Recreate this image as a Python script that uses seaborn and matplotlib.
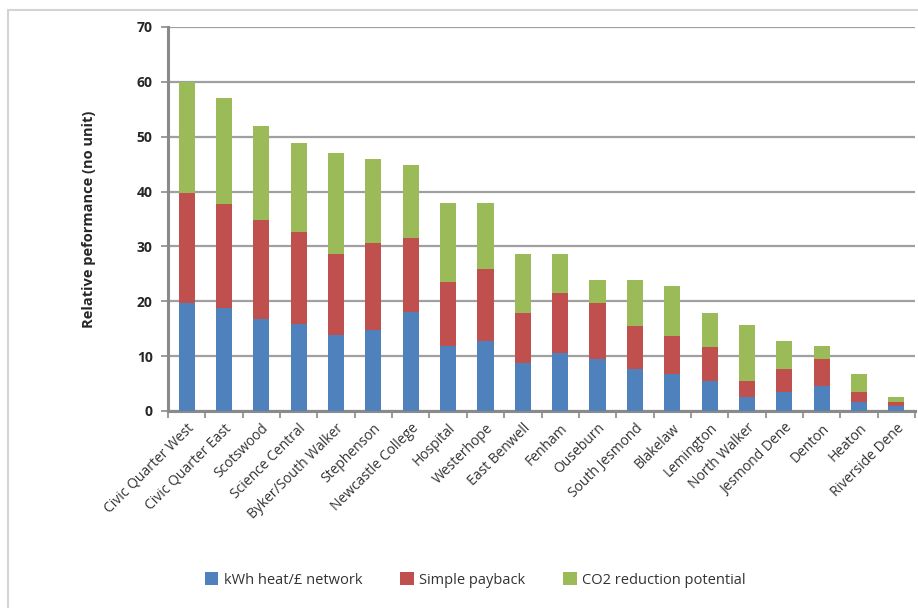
import matplotlib
matplotlib.use("Agg")
import matplotlib.pyplot as plt
from matplotlib.patches import Rectangle, Patch
import numpy as np
import pandas as pd
import seaborn as sns

# Heat network cluster areas, ranked by overall score
areas = [
    "Civic Quarter West", "Civic Quarter East", "Scotswood", "Science Central",
    "Byker/South Walker", "Stephenson", "Newcastle College", "Hospital",
    "Westerhope", "East Benwell", "Fenham", "Ouseburn", "South Jesmond",
    "Blakelaw", "Lemington", "North Walker", "Jesmond Dene", "Denton",
    "Heaton", "Riverside Dene",
]

# Component scores (relative, no unit)
kwh_heat = [19.7, 18.8, 16.8, 15.8, 13.8, 14.7, 18.1, 11.8, 12.7, 8.7,
            10.5, 9.5, 7.7, 6.7, 5.5, 2.5, 3.5, 4.6, 1.6, 1.0]
payback = [20.0, 19.0, 18.0, 16.8, 14.8, 15.9, 13.5, 11.8, 13.1, 9.2,
           11.0, 10.1, 7.8, 6.9, 6.1, 3.0, 4.1, 4.9, 1.8, 0.6]
co2 = [20.3, 19.2, 17.2, 16.3, 18.4, 15.3, 13.2, 14.3, 12.1, 10.8,
       7.2, 4.2, 8.3, 9.1, 6.3, 10.2, 5.2, 2.4, 3.4, 0.9]

series_names = ["kWh heat/£ network", "Simple payback", "CO2 reduction potential"]
colors = ["#4f81bd", "#c0504d", "#9bbb59"]

df = pd.DataFrame({"area": areas, "kwh": kwh_heat, "payback": payback, "co2": co2})
df["cum1"] = df["kwh"]
df["cum2"] = df["kwh"] + df["payback"]
df["cum3"] = df["cum2"] + df["co2"]

sns.set_theme(style="white")
plt.rcParams["font.family"] = ["Open Sans", "DejaVu Sans"]

fig = plt.figure(figsize=(9.18, 6.08), dpi=100)
ax = fig.add_axes([168 / 918, 1 - 411 / 608, (915 - 168) / 918, (411 - 27) / 608])

# Outer chart frame
fig.patches.append(Rectangle((8 / 918, -0.01), 1.0, 1 - 10 / 608 + 0.01,
                             transform=fig.transFigure, fill=False,
                             edgecolor="#d4d4d4", linewidth=1.5, zorder=0))

# Stacked bars: draw cumulative totals back to front
for col, c in zip(["cum3", "cum2", "cum1"], colors[::-1]):
    sns.barplot(data=df, x="area", y=col, color=c, width=0.43,
                saturation=1, linewidth=0, edgecolor="none", ax=ax, zorder=3)

ax.set_ylim(0, 70)
ax.set_xlim(-0.5, len(areas) - 0.5)
ax.set_yticks(np.arange(0, 71, 10))
ax.yaxis.grid(True, color="#a0a0a0", linewidth=1.6, zorder=0)
ax.set_axisbelow(True)

for s in ["top", "right"]:
    ax.spines[s].set_visible(False)
for s in ["left", "bottom"]:
    ax.spines[s].set_color("#8a8a8a")
    ax.spines[s].set_linewidth(2.2)

ax.tick_params(axis="y", which="major", direction="out", length=5, width=1.2,
               color="#8a8a8a", labelsize=10, labelcolor="#262626", pad=6, left=True)
for lbl in ax.get_yticklabels():
    lbl.set_fontweight("bold")

ax.set_xticks(range(len(areas)))
ax.set_xticklabels(areas, rotation=45, ha="right", rotation_mode="anchor",
                   fontsize=10, color="#333333")
ax.tick_params(axis="x", which="major", length=0, pad=7)
ax.set_xticks(np.arange(-0.5, len(areas), 1.0), minor=True)
ax.tick_params(axis="x", which="minor", direction="out", length=5, width=1.2,
               color="#8a8a8a", bottom=True)

ax.set_xlabel("")
ax.set_ylabel("Relative peformance (no unit)", fontsize=10.5, fontweight="bold",
              color="#262626", labelpad=29)

handles = [Patch(facecolor=c, edgecolor="none") for c in colors]
fig.legend(handles, series_names, loc="center", bbox_to_anchor=(0.518, 1 - 580 / 608),
           ncol=3, frameon=False, fontsize=10.5, handlelength=0.9, handleheight=0.9,
           handletextpad=0.4, columnspacing=2.6, labelcolor="#333333")

fig.savefig("out.png", dpi=100)
